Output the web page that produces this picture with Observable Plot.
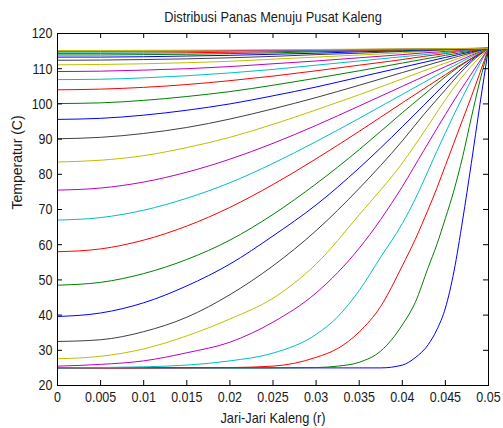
<!DOCTYPE html>
<html><head><meta charset="utf-8">
<script src="https://cdn.jsdelivr.net/npm/d3@7"></script>
<script src="https://cdn.jsdelivr.net/npm/@observablehq/plot@0.6"></script>
<style>
html,body{margin:0;padding:0;background:#fff;}
#chart svg{display:block;}
</style></head><body><div id="chart"></div>
<script>
const title = "Distribusi Panas Menuju Pusat Kaleng";
const xLabel = "Jari-Jari Kaleng (r)";
const yLabel = "Temperatur (C)";

// finer radius grid for the four earliest (steep) profiles
const radiusFine = [0, 0.01, 0.02, 0.025, 0.03, 0.0325, 0.035, 0.0375, 0.04, 0.0415, 0.043, 0.044, 0.045, 0.046, 0.047, 0.048, 0.049, 0.05];
// radius grid for the later profiles
const radius = [0, 0.005, 0.01, 0.015, 0.02, 0.025, 0.03, 0.035, 0.04, 0.0425, 0.045, 0.0465, 0.048, 0.05];

const curve01 = [25, 25, 25, 25, 25, 25, 25, 25, 25.8, 27.9, 31.6, 35.8, 42.0, 52.5, 67.0, 83.0, 99.8, 115.8];
const curve02 = [25, 25, 25, 25, 25.1, 25.5, 26.6, 29.8, 37.2, 43.6, 53.5, 60.0, 67.5, 75.5, 85.0, 96.0, 106.5, 115.8];
const curve03 = [25, 25, 25.1, 25.5, 28.0, 30.5, 35.2, 42.5, 54.0, 61.5, 70.0, 76.0, 82.5, 89.0, 95.5, 102.0, 108.8, 115.8];
const curve04 = [25.0, 25.3, 27.0, 29.2, 34.5, 39.5, 47.0, 56.5, 66.0, 73.0, 81.0, 86.5, 91.8, 97.0, 102.0, 106.8, 111.4, 115.8];
const curve05 = [25.5, 26.0, 27.0, 29.3, 32.3, 38.0, 46.3, 59.0, 76.5, 86.8, 97.0, 102.9, 108.5, 115.8];
const curve06 = [27.6, 28.3, 30.4, 34.1, 38.9, 44.8, 54.5, 68.5, 83.2, 92.0, 101.2, 106.3, 110.7, 115.8];
const curve07 = [32.5, 33.0, 35.3, 39.4, 45.8, 54.0, 64.0, 76.0, 89.5, 97.0, 104.0, 108.2, 111.9, 115.8];
const curve08 = [39.6, 40.6, 43.5, 48.3, 54.5, 62.5, 71.3, 81.8, 93.5, 99.6, 105.8, 109.2, 112.4, 115.8];
const curve09 = [48.5, 49.3, 51.8, 55.8, 61.3, 68.6, 77.3, 87.0, 97.5, 102.6, 107.7, 110.4, 112.8, 115.8];
const curve10 = [58.0, 58.8, 61.3, 65.3, 70.6, 77.1, 84.4, 92.2, 100.3, 104.3, 108.3, 110.7, 112.9, 115.8];
const curve11 = [67.0, 67.7, 69.8, 73.2, 77.6, 83.1, 89.3, 95.9, 102.7, 106.1, 109.5, 111.5, 113.4, 115.8];
const curve12 = [75.5, 76.1, 77.8, 80.6, 84.3, 88.8, 93.9, 99.4, 105.0, 107.8, 110.6, 112.2, 113.8, 115.8];
const curve13 = [83.5, 84.0, 85.3, 87.6, 90.5, 94.2, 98.3, 102.6, 107.1, 109.4, 111.6, 112.9, 114.2, 115.8];
const curve14 = [90.1, 90.5, 91.6, 93.3, 95.7, 98.6, 101.8, 105.3, 108.9, 110.7, 112.5, 113.5, 114.5, 115.8];
const curve15 = [95.6, 95.9, 96.8, 98.2, 100.0, 102.3, 104.8, 107.6, 110.4, 111.8, 113.2, 114.0, 114.8, 115.8];
const curve16 = [100.1, 100.3, 101.0, 102.1, 103.5, 105.3, 107.3, 109.4, 111.6, 112.7, 113.8, 114.4, 115.0, 115.8];
const curve17 = [104.0, 104.2, 104.7, 105.5, 106.6, 107.9, 109.4, 111.0, 112.6, 113.5, 114.3, 114.8, 115.2, 115.8];
const curve18 = [106.9, 107.0, 107.4, 108.0, 108.8, 109.8, 111.0, 112.2, 113.4, 114.0, 114.6, 115.0, 115.4, 115.8];
const curve19 = [109.2, 109.3, 109.6, 110.0, 110.6, 111.4, 112.2, 113.1, 114.0, 114.5, 114.9, 115.2, 115.5, 115.8];
const curve20 = [111.1, 111.2, 111.4, 111.7, 112.1, 112.7, 113.3, 113.9, 114.5, 114.9, 115.2, 115.4, 115.6, 115.8];
const curve21 = [112.4, 112.45, 112.6, 112.8, 113.1, 113.5, 114.0, 114.4, 114.9, 115.1, 115.4, 115.5, 115.6, 115.8];
const curve22 = [113.3, 113.3, 113.4, 113.6, 113.8, 114.1, 114.4, 114.8, 115.1, 115.3, 115.5, 115.6, 115.7, 115.8];
const curve23 = [113.9, 113.9, 114.0, 114.1, 114.3, 114.5, 114.8, 115.0, 115.3, 115.4, 115.55, 115.6, 115.7, 115.8];
const curve24 = [114.35, 114.37, 114.43, 114.53, 114.67, 114.83, 115.01, 115.21, 115.41, 115.51, 115.61, 115.67, 115.73, 115.8];
const curve25 = [114.7, 114.72, 114.76, 114.84, 114.94, 115.06, 115.2, 115.35, 115.51, 115.58, 115.66, 115.7, 115.75, 115.8];
const curve26 = [114.97, 114.98, 115.02, 115.07, 115.15, 115.24, 115.35, 115.46, 115.58, 115.63, 115.69, 115.73, 115.76, 115.8];
const curve27 = [115.17, 115.18, 115.21, 115.25, 115.31, 115.38, 115.46, 115.54, 115.63, 115.67, 115.72, 115.74, 115.77, 115.8];

const earlyCurves = [curve01, curve02, curve03, curve04];
const laterCurves = [curve05, curve06, curve07, curve08, curve09, curve10, curve11, curve12, curve13,
  curve14, curve15, curve16, curve17, curve18, curve19, curve20, curve21, curve22, curve23,
  curve24, curve25, curve26, curve27];

// MATLAB default line colour order
const colorOrder = ["#0000ff", "#008000", "#ff0000", "#00bfbf", "#bf00bf", "#bfbf00", "#404040"];

const xTicks = [0, 0.005, 0.01, 0.015, 0.02, 0.025, 0.03, 0.035, 0.04, 0.045, 0.05];
const xTickLabels = ["0", "0.005", "0.01", "0.015", "0.02", "0.025", "0.03", "0.035", "0.04", "0.045", "0.05"];
const yTicks = [20, 30, 40, 50, 60, 70, 80, 90, 100, 110, 120];

const rows = [];
let idx = 0;
earlyCurves.forEach(vals => { const k = idx++; vals.forEach((t, j) => rows.push({curve: k + 1, r: radiusFine[j], T: t, color: colorOrder[k % 7]})); });
laterCurves.forEach(vals => { const k = idx++; vals.forEach((t, j) => rows.push({curve: k + 1, r: radius[j], T: t, color: colorOrder[k % 7]})); });

const font = "'Liberation Sans', Arial, Helvetica, sans-serif";
const tickLen = 5;
const W = 503, H = 428, ML = 57, MR = 15, MT = 33, MB = 43;
const fw = W - ML - MR, fh = H - MT - MB;

const chart = Plot.plot({
  width: W, height: H,
  marginLeft: ML, marginRight: MR, marginTop: MT, marginBottom: MB,
  style: {background: "white", fontFamily: font, fontSize: "12.5px", color: "#1a1a1a"},
  x: {domain: [0, 0.05]},
  y: {domain: [20, 120]},
  marks: [
    Plot.line(rows, {x: "r", y: "T", z: "curve", stroke: "color", strokeWidth: 1, curve: "monotone-x"}),
    Plot.axisX({ticks: xTicks, tickSize: 0, tickPadding: 7, tickFormat: d => xTickLabels[xTicks.indexOf(d)], label: null, fontSize: 12.5}),
    Plot.axisY({ticks: yTicks, tickSize: 0, tickPadding: 5, label: null, fontSize: 12.5}),
    Plot.ruleX(xTicks, {insetTop: fh - tickLen, stroke: "black"}),
    Plot.ruleX(xTicks, {insetBottom: fh - tickLen, stroke: "black"}),
    Plot.ruleY(yTicks, {insetRight: fw - tickLen, stroke: "black"}),
    Plot.ruleY(yTicks, {insetLeft: fw - tickLen, stroke: "black"}),
    Plot.frame({stroke: "black"}),
    Plot.text([title], {text: d => d, frameAnchor: "top", lineAnchor: "middle", dy: -17, fontSize: 12.8, fill: "#1a1a1a"}),
    Plot.text([xLabel], {text: d => d, frameAnchor: "bottom", lineAnchor: "middle", dy: 32, fontSize: 12.8, fill: "#1a1a1a"}),
    Plot.text([yLabel], {text: d => d, frameAnchor: "left", lineAnchor: "middle", dx: -39.5, rotate: -90, fontSize: 14, fill: "#1a1a1a"})
  ]
});
document.getElementById("chart").appendChild(chart);

// the reference's lettering is drawn taller than its width: stretch glyphs vertically about their centre
const stretch = 1.2;
chart.querySelectorAll("text").forEach(t => {
  if (t.textContent === yLabel) return;
  const b = t.getBBox();
  const cx = b.x + b.width / 2, cy = b.y + b.height / 2;
  const prev = t.getAttribute("transform") || "";
  t.setAttribute("transform", `${prev} translate(${cx},${cy}) scale(1,${stretch}) translate(${-cx},${-cy})`);
});
</script>
</body></html>
